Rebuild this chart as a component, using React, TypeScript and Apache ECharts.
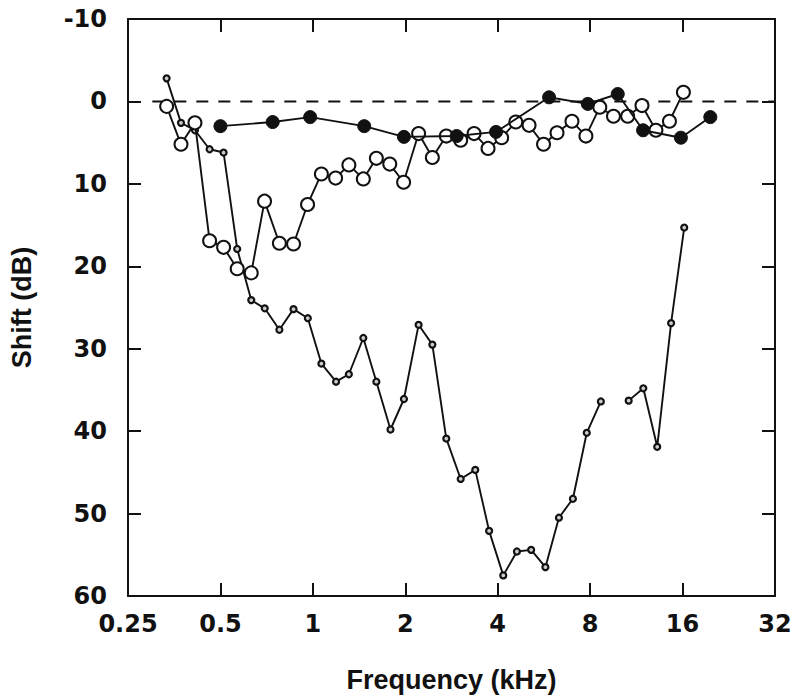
import React, { useEffect, useRef } from "react";
import * as echarts from "echarts";

// Frequencies (kHz) and threshold shifts (dB)
const openFreq = [0.334, 0.372, 0.413, 0.461, 0.512, 0.567, 0.63, 0.696, 0.778, 0.865, 0.961, 1.066, 1.186, 1.31, 1.46, 1.61, 1.78, 1.975, 2.21, 2.45, 2.72, 3.03, 3.35, 3.72, 4.12, 4.58, 5.06, 5.64, 6.24, 6.98, 7.75, 8.6, 9.53, 10.6, 11.8, 13.1, 14.5, 16.1];
const openShift = [0.6, 5.2, 2.6, 16.9, 17.7, 20.3, 20.8, 12.1, 17.2, 17.3, 12.5, 8.8, 9.3, 7.7, 9.4, 6.9, 7.6, 9.8, 3.9, 6.8, 4.2, 4.7, 3.9, 5.7, 4.4, 2.5, 2.9, 5.2, 3.8, 2.4, 4.2, 0.7, 1.8, 1.8, 0.5, 3.5, 2.4, -1.1];

const filledFreq = [0.5, 0.74, 0.98, 1.47, 1.98, 2.94, 3.95, 5.88, 7.86, 9.84, 11.9, 15.8, 19.7];
const filledShift = [3.0, 2.5, 1.9, 3.0, 4.3, 4.2, 3.7, -0.5, 0.3, -0.9, 3.5, 4.4, 1.9];

const smallFreqA = [0.334, 0.372, 0.413, 0.461, 0.512, 0.567, 0.63, 0.697, 0.778, 0.865, 0.963, 1.066, 1.19, 1.31, 1.46, 1.61, 1.79, 1.98, 2.21, 2.45, 2.72, 3.03, 3.38, 3.75, 4.17, 4.62, 5.14, 5.72, 6.33, 7.03, 7.8, 8.67];
const smallShiftA = [-2.8, 2.6, 3.5, 5.8, 6.2, 17.9, 24.1, 25.1, 27.7, 25.2, 26.3, 31.8, 34.0, 33.1, 28.7, 34.0, 39.8, 36.1, 27.1, 29.5, 40.9, 45.8, 44.7, 52.1, 57.5, 54.6, 54.4, 56.5, 50.5, 48.2, 40.2, 36.4];
const smallFreqB = [10.68, 11.92, 13.23, 14.68, 16.2];
const smallShiftB = [36.3, 34.8, 41.9, 26.9, 15.3];

const zeroLineFreq = [0.3, 32];
const zeroLineShift = [0, 0];

const xTicks = [0.25, 0.5, 1, 2, 4, 8, 16, 32];

const zip = (xs: number[], ys: number[]) => xs.map((x, i) => [x, ys[i]]);

const INK = "#111";
const tickFont = { fontFamily: "DejaVu Sans", fontWeight: "bold" as const, fontSize: 24, color: INK };
const titleFont = { fontFamily: "Liberation Sans", fontWeight: "bold" as const, fontSize: 27, color: INK };

const axisLine = { show: true, onZero: false, lineStyle: { color: INK, width: 2 } };
const axisTick = { show: true, inside: true, length: 13, lineStyle: { color: INK, width: 2 } };

const fmtX = (v: number) => {
  const r = xTicks.find((t) => Math.abs(t - v) < 1e-6);
  return r !== undefined ? String(r) : "";
};

export default function App() {
  const ref = useRef<HTMLDivElement>(null);
  useEffect(() => {
    const chart = echarts.init(ref.current!, null, { renderer: "svg" });
    const lineBase = { color: INK, width: 1.9 };
    chart.setOption({
      animation: false,
      backgroundColor: "#fff",
      grid: { left: 126, right: 25, top: 19, bottom: 102, containLabel: false },
      xAxis: [
        {
          type: "log",
          logBase: 2,
          min: 0.25,
          max: 32,
          splitNumber: 7,
          position: "bottom",
          name: "Frequency (kHz)",
          nameLocation: "middle",
          nameGap: 70,
          nameTextStyle: titleFont,
          axisLine,
          axisTick,
          minorTick: { show: false },
          splitLine: { show: false },
          axisLabel: { ...tickFont, margin: 16, formatter: fmtX },
        },
        {
          type: "log",
          logBase: 2,
          min: 0.25,
          max: 32,
          splitNumber: 7,
          position: "top",
          axisLine,
          axisTick,
          splitLine: { show: false },
          axisLabel: { show: false },
        },
      ],
      yAxis: [
        {
          type: "value",
          inverse: true,
          min: -10,
          max: 60,
          interval: 10,
          position: "left",
          name: "Shift (dB)",
          nameLocation: "middle",
          nameGap: 93,
          nameTextStyle: titleFont,
          axisLine,
          axisTick,
          splitLine: { show: false },
          axisLabel: { ...tickFont, margin: 21 },
        },
        {
          type: "value",
          inverse: true,
          min: -10,
          max: 60,
          interval: 10,
          position: "right",
          axisLine,
          axisTick,
          splitLine: { show: false },
          axisLabel: { show: false },
        },
      ],
      series: [
        {
          type: "line",
          data: zip(zeroLineFreq, zeroLineShift),
          symbol: "none",
          silent: true,
          lineStyle: { color: INK, width: 2, type: [12, 10] },
          z: 1,
        },
        {
          type: "line",
          data: zip(smallFreqA, smallShiftA),
          symbol: "circle",
          symbolSize: 6,
          itemStyle: { color: "#ccc", borderColor: INK, borderWidth: 2.2 },
          lineStyle: lineBase,
          z: 2,
        },
        {
          type: "line",
          data: zip(smallFreqB, smallShiftB),
          symbol: "circle",
          symbolSize: 6,
          itemStyle: { color: "#ccc", borderColor: INK, borderWidth: 2.2 },
          lineStyle: lineBase,
          z: 2,
        },
        {
          type: "line",
          data: zip(openFreq, openShift),
          symbol: "circle",
          symbolSize: 13,
          itemStyle: { color: "#fff", borderColor: INK, borderWidth: 2 },
          lineStyle: lineBase,
          z: 3,
        },
        {
          type: "line",
          data: zip(filledFreq, filledShift),
          symbol: "circle",
          symbolSize: 13,
          itemStyle: { color: INK, borderColor: INK, borderWidth: 1 },
          lineStyle: lineBase,
          z: 4,
        },
      ],
    });
    return () => chart.dispose();
  }, []);
  return (
    <div
      ref={ref}
      style={{ position: "fixed", left: 0, top: 0, width: 800, height: 698, background: "#fff" }}
    />
  );
}
